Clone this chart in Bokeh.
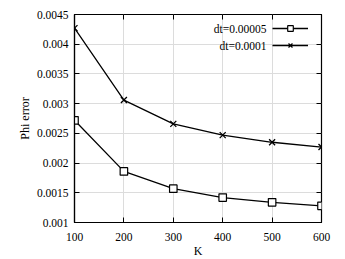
from bokeh.plotting import figure
from bokeh.models import LinearAxis, FixedTicker, Range1d, Legend, LegendItem, Label
from bokeh.core.properties import value
from bokeh.embed import file_html
from bokeh.resources import INLINE

K = [100, 200, 300, 400, 500, 600]
err_dt_00005 = [0.00272, 0.00186, 0.00157, 0.00142, 0.00134, 0.00128]
err_dt_0001 = [0.00427, 0.00306, 0.00266, 0.00247, 0.00235, 0.00227]
x_ticks = [100, 200, 300, 400, 500, 600]
y_ticks = [0.001, 0.0015, 0.002, 0.0025, 0.003, 0.0035, 0.004, 0.0045]
y_tick_labels = ["0.001", "0.0015", "0.002", "0.0025", "0.003", "0.0035", "0.004", "0.0045"]
series_names = ["dt=0.00005", "dt=0.0001"]

FONT = "Liberation Serif"

p = figure(width=335, height=252, output_backend="svg", toolbar_location=None,
           x_range=Range1d(100, 600), y_range=Range1d(0.001, 0.0045),
           frame_width=247, frame_height=208,
           min_border_left=74, min_border_top=14, min_border_right=14, min_border_bottom=28)
p.background_fill_color = "white"
p.border_fill_color = "white"
p.outline_line_color = "black"
p.outline_line_width = 1.2

for ax in [p.xaxis[0], p.yaxis[0]]:
    ax.major_tick_in = 5
    ax.major_tick_out = 0
    ax.minor_tick_line_color = None
    ax.axis_line_color = "black"
    ax.axis_line_width = 1.2
    ax.major_tick_line_color = "black"
    ax.major_label_text_font = FONT
    ax.major_label_text_font_size = "11.5px"
    ax.major_label_text_color = "black"
    ax.axis_label_text_font = FONT
    ax.axis_label_text_font_size = "12px"
    ax.axis_label_text_font_style = "normal"
    ax.axis_label_text_color = "black"

p.xaxis[0].ticker = FixedTicker(ticks=x_ticks)
p.yaxis[0].ticker = FixedTicker(ticks=y_ticks)
p.yaxis[0].major_label_overrides = {t: l for t, l in zip(y_ticks, y_tick_labels)}
p.xaxis[0].axis_label = "K"
p.yaxis[0].axis_label = "Phi error"
p.xaxis[0].major_label_standoff = 10
p.yaxis[0].major_label_standoff = 6
p.xaxis[0].axis_label_standoff = 0
p.yaxis[0].axis_label_standoff = 2

# mirror ticks
top = LinearAxis(ticker=FixedTicker(ticks=x_ticks), major_label_text_font_size="0px",
                 major_tick_in=5, major_tick_out=0, minor_tick_line_color=None,
                 axis_line_color=None, major_label_text_color=None)
right = LinearAxis(ticker=FixedTicker(ticks=y_ticks), major_label_text_font_size="0px",
                   major_tick_in=5, major_tick_out=0, minor_tick_line_color=None,
                   axis_line_color=None, major_label_text_color=None)
p.add_layout(top, "above")
p.add_layout(right, "right")

p.xgrid.ticker = FixedTicker(ticks=x_ticks)
p.ygrid.ticker = FixedTicker(ticks=y_ticks)
p.xgrid.grid_line_color = "#dcdcdc"
p.ygrid.grid_line_color = "#dcdcdc"
p.xgrid.grid_line_width = 1
p.ygrid.grid_line_width = 1

l1 = p.line(K, err_dt_00005, line_color="black", line_width=1.3)
s1 = p.scatter(K, err_dt_00005, marker="square", size=7.5, fill_color="white",
               line_color="black", line_width=1.2)
l2 = p.line(K, err_dt_0001, line_color="black", line_width=1.3)
s2 = p.scatter(K, err_dt_0001, marker="x", size=8.5, line_color="black", line_width=1.3)

legend = Legend(items=[LegendItem(label=value(" "), renderers=[l1, s1]),
                       LegendItem(label=value(" "), renderers=[l2, s2])],
                location=(198, 170), orientation="vertical",
                background_fill_alpha=0, border_line_color=None,
                glyph_width=36, glyph_height=14, label_width=0, label_standoff=0,
                label_text_font_size="1px", padding=0, spacing=3, margin=0,
                label_height=14)
p.add_layout(legend, "center")

# legend texts, right-aligned to the left of the samples
for i, name in enumerate(series_names):
    p.add_layout(Label(x=192, y=194 - i * 17, x_units="screen", y_units="screen",
                       text=name, text_align="right", text_baseline="middle",
                       text_font=FONT, text_font_size="11.5px", text_color="black"))

open("out.html", "w").write(file_html(p, INLINE))
